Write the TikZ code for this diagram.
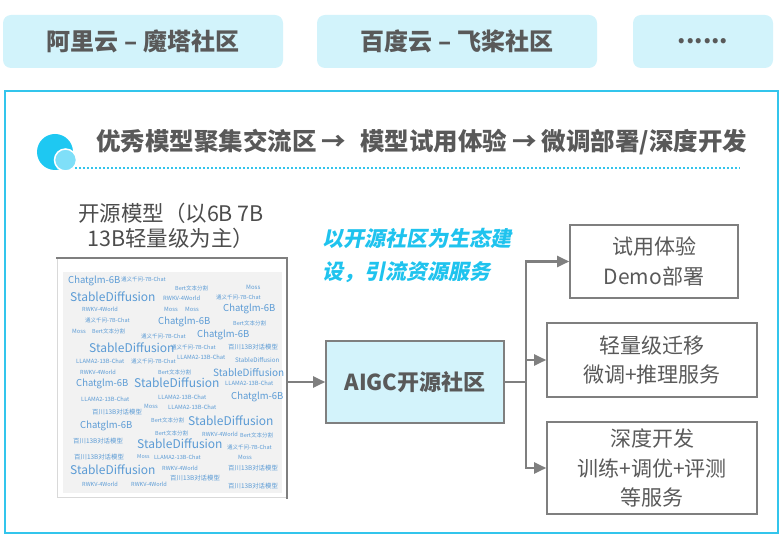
\documentclass[tikz,border=0pt]{standalone}
\usepackage{fontspec}
\setmainfont{Noto Sans CJK SC}
\newfontfamily\cjkslant{Noto Sans CJK SC}[FakeSlant=0.2]
\usetikzlibrary{arrows.meta}
\definecolor{tboxfill}{HTML}{D2F3FB}
\definecolor{txtgray}{HTML}{595959}
\definecolor{framecyan}{HTML}{33C5EC}
\definecolor{iconbig}{HTML}{1EC8F2}
\definecolor{iconsmall}{HTML}{7FDFF8}
\definecolor{aigcfill}{HTML}{D3F3FB}
\definecolor{linegray}{HTML}{7F7F7F}
\definecolor{cloudblue}{HTML}{5B9BD5}
\definecolor{cloudfill}{HTML}{F2F2F2}
\definecolor{slogan}{HTML}{1FC3EE}
\tikzset{
  topbox/.style={rectangle, rounded corners=8pt, fill=tboxfill, inner sep=0, text=txtgray,
    font=\fontsize{24}{28}\selectfont\bfseries, minimum height=53pt},
  rbox/.style={rectangle, draw=linegray, line width=1.6pt, fill=white, inner sep=0, text=txtgray,
    align=center, font=\fontsize{21}{29.5}\selectfont},
  ln/.style={draw=linegray, line width=2.2pt},
  arr/.style={ln, -{Triangle[length=12pt, width=11pt]}},
  word/.style={anchor=west, inner sep=0, text=cloudblue}
}
\begin{document}
\begin{tikzpicture}[x=1pt, y=-1pt]
\useasboundingbox (0,0) rectangle (780,537);
% top boxes
\node[topbox, minimum width=280pt] (t1) at (143,41.5) {阿里云 – 魔塔社区};
\node[topbox, minimum width=280pt] (t2) at (457,41.5) {百度云 – 飞桨社区};
\node[topbox, minimum width=140pt] (t3) at (703,41.5) {......};
% frame
\draw[framecyan, line width=1.5pt] (5,91) rectangle (778,533);
\draw[framecyan, line width=2.5pt] (4,91) -- (779,91);
% icon
\fill[iconbig] (55,152) circle (18);
\draw[white, line width=1.5pt, fill=iconsmall] (65.5,160) circle (11);
\draw[framecyan, line width=2pt, dash pattern=on 2pt off 2pt] (75,168) -- (740,168);
\node[anchor=west, inner sep=0, text=txtgray, font=\fontsize{24.5}{28}\selectfont\bfseries] (hdr) at (96,142)
  {优秀模型聚集交流区\hspace{5pt}→\hspace{14pt}模型试用体验\hspace{5pt}→\hspace{5pt}微调部署/深度开发};
% left label
\node[align=center, inner sep=0, text=txtgray!85!black, font=\fontsize{21.5}{25}\selectfont] (lbl) at (171,225.5)
  {开源模型（以6B 7B\\13B轻量级为主）};
% cloud box
\fill[cloudfill] (63,272) rectangle (282,493);
\draw[black!15, line width=1pt] (57,258) -- (57,498) -- (287,498);
\draw[linegray, line width=2.5pt] (56,258) -- (287,258) -- (287,499);
\node[rectangle, minimum width=230pt, minimum height=240pt, inner sep=0] (cloud) at (172,378) {};
\foreach \x/\y/\s/\t [count=\n] in {
68/281/9.5/Chatglm-6B, 121/279/5.5/通义千问-7B-Chat, 175/288/5.5/Bert文本分割, 246/287/6/Moss,
70/297/12/StableDiffusion, 163/298/5.8/RWKV-4World, 216/297/5.5/通义千问-7B-Chat,
82/309/5.6/RWKV-4World, 164/309/5.8/Moss, 185/309/5.8/Moss, 223/309/9.5/Chatglm-6B,
85/320/5.5/通义千问-7B-Chat, 158/322/9.5/Chatglm-6B, 233/323/5.5/Bert文本分割,
72/331/5.8/Moss, 92/331/5.5/Bert文本分割, 141/336/5.5/通义千问-7B-Chat, 197/335/9.5/Chatglm-6B,
89/348/12/StableDiffusion, 171/347/5.5/通义千问-7B-Chat, 228/347/6.4/百川13B对话模型,
76/361/5.8/LLAMA2-13B-Chat, 131/361/5.5/通义千问-7B-Chat, 177/357/5.8/LLAMA2-13B-Chat, 235/360/6.2/StableDiffusion,
80/372/5.6/RWKV-4World, 158/372/5.5/Bert文本分割, 213/373/10/StableDiffusion,
76/384/9.5/Chatglm-6B, 134/383/12/StableDiffusion, 225/383/5.8/LLAMA2-13B-Chat,
81/399/5.8/LLAMA2-13B-Chat, 158/397/5.8/LLAMA2-13B-Chat, 231/397/9.5/Chatglm-6B,
144/406/5.8/Moss, 168/407/5.8/LLAMA2-13B-Chat, 92/412/6.4/百川13B对话模型,
151/420/5.5/Bert文本分割, 188/421/12/StableDiffusion, 80/426/9.5/Chatglm-6B,
155/433/5.5/Bert文本分割, 202/434/5.6/RWKV-4World, 240/435/5.5/Bert文本分割,
73/441/6.4/百川13B对话模型, 137/444/12/StableDiffusion, 227/447/5.5/通义千问-7B-Chat,
74/457/6.4/百川13B对话模型, 137/457/5.3/Moss, 154/457/5.6/LLAMA2-13B-Chat, 238/457/5.8/Moss,
70/470/12/StableDiffusion, 162/468/5.6/RWKV-4World, 228/468/6.4/百川13B对话模型,
82/484/5.6/RWKV-4World, 131/484/5.6/RWKV-4World, 170/478/6.4/百川13B对话模型, 228/486/6.4/百川13B对话模型}
  \node[word, font=\fontsize{\s}{\s}\selectfont] (w\n) at (\x,\y) {\t};
% slogan
\node[anchor=west, align=left, inner sep=0, text=slogan, font=\fontsize{21}{33}\selectfont\cjkslant\bfseries] (slg) at (322,255.5)
  {以开源社区为生态建\\设，引流资源服务};
% AIGC box
\node[rectangle, draw=linegray, line width=1.6pt, fill=aigcfill, inner sep=0, minimum width=178pt, minimum height=82pt,
  text=txtgray, font=\fontsize{22}{26}\selectfont\bfseries] (aigc) at (415,382) {AIGC开源社区};
% right boxes
\node[rbox, minimum width=168pt, minimum height=73pt] (r1) at (654,261.5) {试用体验\\Demo部署};
\node[rbox, minimum width=210pt, minimum height=74pt] (r2) at (652,360) {轻量级迁移\\微调+推理服务};
\node[rbox, minimum width=210pt, minimum height=92pt] (r3) at (652,468) {深度开发\\训练+调优+评测\\等服务};
% connectors
\coordinate (tr) at (526,382);
\draw[arr] (cloud.east |- aigc.west) -- (aigc.west);
\draw[ln] (aigc.east) -- (tr);
\draw[arr] (tr) |- (r1.west);
\draw[arr] (tr) |- (r2.west);
\draw[arr] (tr) |- (r3.west);
\end{tikzpicture}
\end{document}
